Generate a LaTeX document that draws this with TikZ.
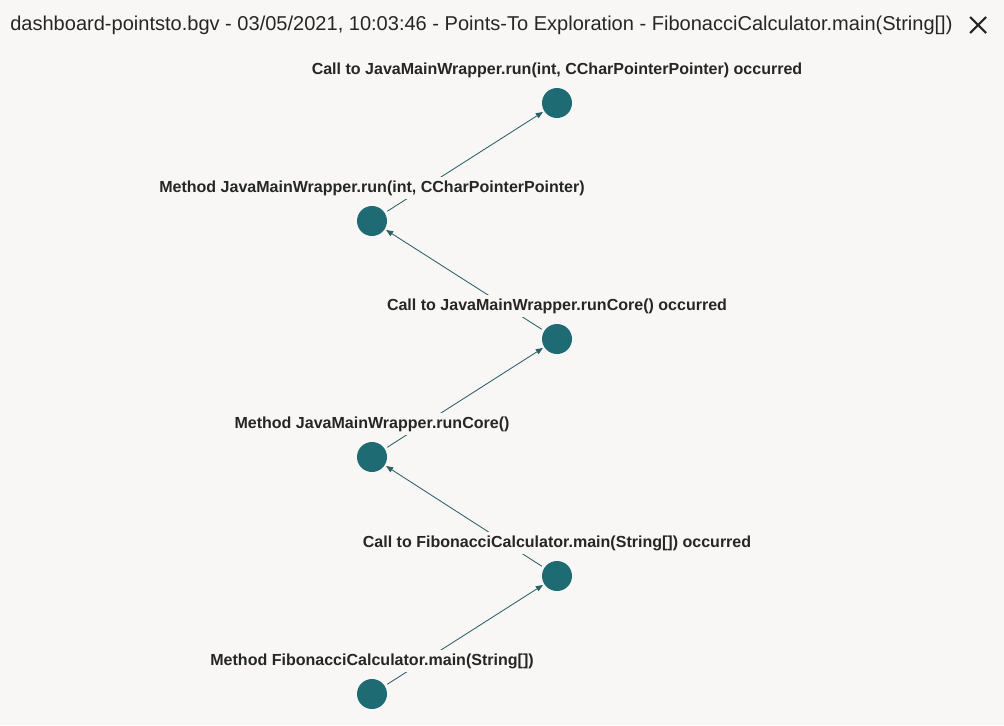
\documentclass[tikz,border=0pt]{standalone}
\usepackage{fontspec}
\setmainfont{Liberation Sans}
\usetikzlibrary{arrows.meta}
\definecolor{bgcol}{HTML}{F8F7F5}
\definecolor{nodecol}{HTML}{1F6B73}
\definecolor{edgecol}{HTML}{2C5F66}
\tikzset{
  vertex/.style={circle,fill=nodecol,minimum size=30*0.025cm,inner sep=0pt},
  vlabel/.style={font=\fontsize{11.4}{13}\selectfont\bfseries,text=black!85,fill=bgcol,inner xsep=0pt,inner ysep=2.5pt},
  flow/.style={edgecol,line width=0.6pt,-{Triangle[length=5pt,width=4pt]},shorten >=1pt,shorten <=2pt}
}
\begin{document}
\begin{tikzpicture}[x=0.025cm,y=-0.025cm]
\fill [bgcol] (0,0) rectangle (1004,725);
\useasboundingbox (0,0) rectangle (1004,725);
\node [anchor=west,inner sep=0pt,font=\fontsize{14.25}{16}\selectfont,text=black!85] (title) at (10,25) {dashboard-pointsto.bgv - 03/05/2021, 10:03:46 - Points-To Exploration - FibonacciCalculator.main(String[])};
\coordinate (closeA) at (970,17);
\coordinate (closeB) at (986,33);
\coordinate (closeC) at (970,33);
\coordinate (closeD) at (986,17);
\draw [black!85,line width=1.5pt] (closeA) -- (closeB) (closeC) -- (closeD);
% vertices
\node [vertex] (callRun) at (557,103) {};
\node [vertex] (mRun) at (372,221) {};
\node [vertex] (callCore) at (557,339) {};
\node [vertex] (mCore) at (372,457) {};
\node [vertex] (callMain) at (557,576) {};
\node [vertex] (mMain) at (372,694) {};
% edges
\draw [flow] (mMain) -- (callMain);
\draw [flow] (callMain) -- (mCore);
\draw [flow] (mCore) -- (callCore);
\draw [flow] (callCore) -- (mRun);
\draw [flow] (mRun) -- (callRun);
% labels
\node [vlabel] (lCallRun) at (557,70) {Call to JavaMainWrapper.run(int, CCharPointerPointer) occurred};
\node [vlabel] (lMRun) at (372,188) {Method JavaMainWrapper.run(int, CCharPointerPointer)};
\node [vlabel] (lCallCore) at (557,306) {Call to JavaMainWrapper.runCore() occurred};
\node [vlabel] (lMCore) at (372,424) {Method JavaMainWrapper.runCore()};
\node [vlabel] (lCallMain) at (557,543) {Call to FibonacciCalculator.main(String[]) occurred};
\node [vlabel] (lMMain) at (372,661) {Method FibonacciCalculator.main(String[])};
\end{tikzpicture}
\end{document}
